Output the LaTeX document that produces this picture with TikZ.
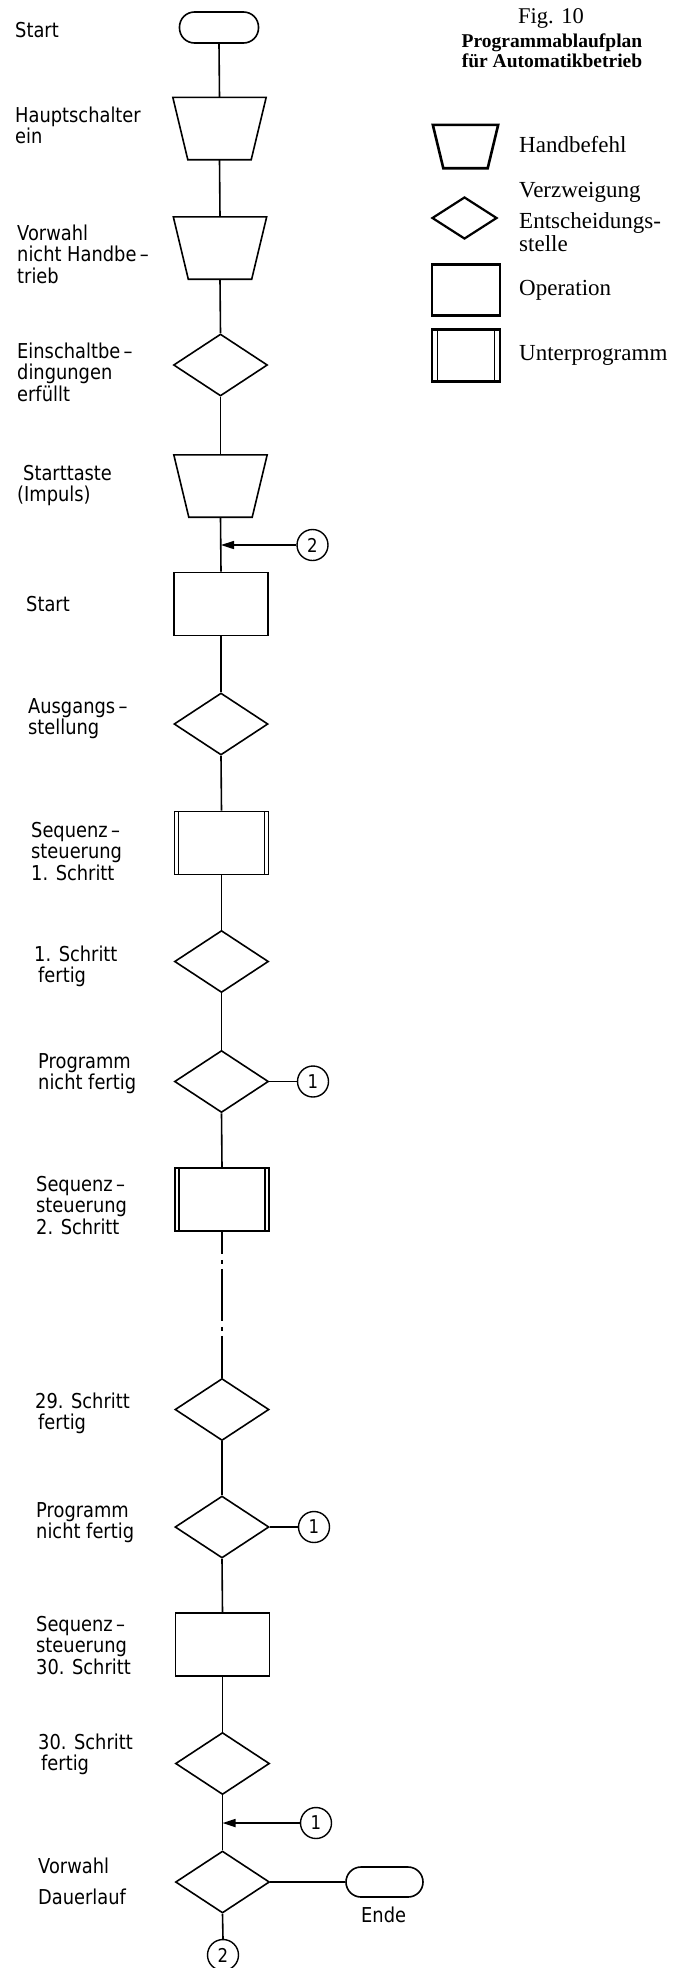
\documentclass[tikz,border=0pt]{standalone}
\usepackage{fontspec}
\newfontfamily\lblfont[FakeStretch=0.87]{DejaVu Sans}
\newfontfamily\legfont{Liberation Serif}
\usetikzlibrary{shapes.geometric,arrows.meta}
\newcommand\ls{\rule{0pt}{16pt}}
\newcommand\trapdraw[3]{\draw[line width=#3, line join=miter] (#1.north west) -- (#1.north east) -- ([xshift=-#2]#1.south east) -- ([xshift=#2]#1.south west) -- cycle;}
\tikzset{
  flow/.style={line width=1.6pt},
  opbox/.style={draw, line width=1.6pt, rectangle, minimum width=94pt, minimum height=63pt, inner sep=0pt},
  subbox/.style={opbox, path picture={
     \draw[line width=1.4pt] ([xshift=4pt]path picture bounding box.north west) -- ([xshift=4pt]path picture bounding box.south west);
     \draw[line width=1.4pt] ([xshift=-4pt]path picture bounding box.north east) -- ([xshift=-4pt]path picture bounding box.south east);}},
  decbox/.style={draw, line width=1.6pt, diamond, minimum width=94pt, minimum height=62pt, inner sep=0pt},
  trapbox/.style={rectangle, minimum width=93pt, minimum height=62pt, inner sep=0pt},
  termbox/.style={draw, line width=1.6pt, rectangle, rounded corners=15pt, minimum width=79pt, minimum height=31pt, inner sep=0pt},
  conn/.style={draw, circle, line width=1.4pt, minimum size=31pt, inner sep=0pt, font=\lblfont\fontsize{19}{20}\selectfont},
  lbl/.style={anchor=north west, inner sep=0pt, align=left, font=\lblfont\fontsize{20.5}{21.5}\selectfont},
  leg/.style={anchor=base west, inner sep=0pt, font=\legfont\fontsize{23}{24}\selectfont},
  arr/.style={line width=1.6pt, -{Triangle[length=13pt,width=8pt]}},
}
\begin{document}
\begin{tikzpicture}[x=1pt,y=-1pt]
\fill[white] (0,0) rectangle (684,1968);
\path[use as bounding box] (0,0) rectangle (684,1968);
\clip (0,0) rectangle (684,1968);

% main flow nodes
\node[termbox] (st) at (219,27.5) {};
\node[trapbox] (h1) at (219.5,128.5) {}; \trapdraw{h1}{15pt}{1.6pt}
\node[trapbox] (h2) at (220,248) {}; \trapdraw{h2}{15pt}{1.6pt}
\node[decbox] (d1) at (220.5,365) {};
\node[trapbox] (h3) at (220.5,486) {}; \trapdraw{h3}{15pt}{1.6pt}
\coordinate (j2) at (221,545);
\node[conn] (c2) at (312.5,545) {2};
\node[opbox] (r1) at (221,604) {};
\node[decbox] (d2) at (221,724) {};
\node[subbox] (s1) at (221.5,843) {};
\node[decbox] (d3) at (221.5,961.5) {};
\node[decbox] (d4) at (221.5,1081.5) {};
\node[conn] (c1a) at (313,1081.5) {1};
\node[subbox] (s2) at (222,1199.5) {};
\node[decbox] (d5) at (222,1409.5) {};
\node[decbox] (d6) at (222,1527) {};
\node[conn] (c1b) at (314,1527) {1};
\node[opbox] (s3) at (222.5,1644.5) {};
\node[decbox] (d7) at (222.5,1763.5) {};
\coordinate (j1) at (222.5,1823);
\node[conn] (c1c) at (316,1823) {1};
\node[decbox] (d8) at (222.5,1882) {};
\node[termbox, minimum width=77pt, minimum height=30pt] (ende) at (384.5,1882) {};
\node[conn] (c2b) at (223,1955) {2};

% connectors
\draw[flow] (st.south) -- (h1.north);
\draw[flow] (h1.south) -- (h2.north);
\draw[flow] (h2.south) -- (d1.north);
\draw[flow] (d1.south) -- (h3.north);
\draw[flow] (h3.south) -- (r1.north);
\draw[arr] (c2.west) -- (j2);
\draw[flow] (r1.south) -- (d2.north);
\draw[flow] (d2.south) -- (s1.north);
\draw[flow] (s1.south) -- (d3.north);
\draw[flow] (d3.south) -- (d4.north);
\draw[flow] (d4.east) -- (c1a.west);
\draw[flow] (d4.south) -- (s2.north);
\draw[flow, dash pattern=on 22pt off 6pt on 4pt off 5pt on 52pt off 6pt on 4pt off 5pt on 60pt off 10pt] (s2.south) -- (d5.north);
\draw[flow] (d5.south) -- (d6.north);
\draw[flow] (d6.east) -- (c1b.west);
\draw[flow] (d6.south) -- (s3.north);
\draw[flow] (s3.south) -- (d7.north);
\draw[flow] (d7.south) -- (d8.north);
\draw[arr] (c1c.west) -- (j1);
\draw[flow] (d8.east) -- (ende.west);
\draw[flow] (d8.south) -- (c2b.north);

% labels
\node[lbl] (tStart) at (15,21) {\ls Start};
\node[lbl] (tHaupt) at (15,106) {\ls Hauptschalter\\ein};
\node[lbl] (tVorw) at (17,224) {\ls Vorwahl\\nicht Handbe\,–\\trieb};
\node[lbl] (tEin) at (17,342) {\ls Einschaltbe\,–\\dingungen\\erfüllt};
\node[lbl] (tTaste) at (17,464) {\ls\hspace*{6pt}Starttaste\\(Impuls)};
\node[lbl] (tStart2) at (26,595) {\ls Start};
\node[lbl] (tAusg) at (28,697) {\ls Ausgangs\,–\\stellung};
\node[lbl] (tSeq1) at (31,821) {\ls Sequenz\,–\\steuerung\\1. Schritt};
\node[lbl] (tF1) at (34,945) {\ls 1. Schritt\\\hspace*{4pt}fertig};
\node[lbl] (tP1) at (38,1052) {\ls Programm\\nicht fertig};
\node[lbl] (tSeq2) at (36,1175) {\ls Sequenz\,–\\steuerung\\2. Schritt};
\node[lbl] (tF29) at (35,1392) {\ls 29. Schritt\\\hspace*{3pt}fertig};
\node[lbl] (tP2) at (36,1501) {\ls Programm\\nicht fertig};
\node[lbl] (tSeq30) at (36,1615) {\ls Sequenz\,–\\steuerung\\30. Schritt};
\node[lbl] (tF30) at (38,1733) {\ls 30. Schritt\\\hspace*{3pt}fertig};
\node[lbl] (tDauer) at (38,1857) {\ls Vorwahl\\[10pt]Dauerlauf};
\node[lbl] (tEnde) at (361,1906) {\ls Ende};

% title
\node[anchor=base, inner sep=0pt, font=\legfont\fontsize{22.5}{24}\selectfont] (fig) at (551,23) {Fig. 10};
\node[anchor=base, inner sep=0pt, font=\legfont\bfseries\fontsize{19.5}{21}\selectfont] (tit1) at (552,47) {Programmablaufplan};
\node[anchor=base, inner sep=0pt, font=\legfont\bfseries\fontsize{19.5}{21}\selectfont] (tit2) at (552,67) {für Automatikbetrieb};

% legend
\node[trapbox, minimum width=65pt, minimum height=43pt] (lh) at (465.5,146.5) {}; \trapdraw{lh}{10.5pt}{2.6pt}
\node[leg] (lhT) at (519,152) {Handbefehl};
\node[draw, diamond, line width=2.2pt, minimum width=65pt, minimum height=42pt, inner sep=0pt] (ld) at (464.5,218) {};
\node[leg] (ldT1) at (519,197) {Verzweigung};
\node[anchor=north west, inner sep=0pt, align=left, font=\legfont\fontsize{23}{23}\selectfont] (ldT2) at (519,212) {\ls Entscheidungs-\\stelle};
\node[draw, line width=1.1pt, minimum width=68pt, minimum height=50pt, inner sep=0pt] (lo) at (466,290) {};
\draw[line width=2pt] (lo.north west) -- (lo.north east);
\draw[line width=2pt] (lo.south west) -- (lo.south east);
\node[leg] (loT) at (519,295) {Operation};
\node[draw, line width=1.1pt, minimum width=68pt, minimum height=51pt, inner sep=0pt] (lu) at (466,355.5) {};
\draw[line width=2pt] (lu.north west) -- (lu.north east);
\draw[line width=2pt] (lu.south west) -- (lu.south east);
\draw[line width=1.1pt] ([xshift=6pt]lu.north west) -- ([xshift=6pt]lu.south west);
\draw[line width=1.1pt] ([xshift=-6pt]lu.north east) -- ([xshift=-6pt]lu.south east);
\node[leg] (luT) at (519,360) {Unterprogramm};
\end{tikzpicture}
\end{document}
